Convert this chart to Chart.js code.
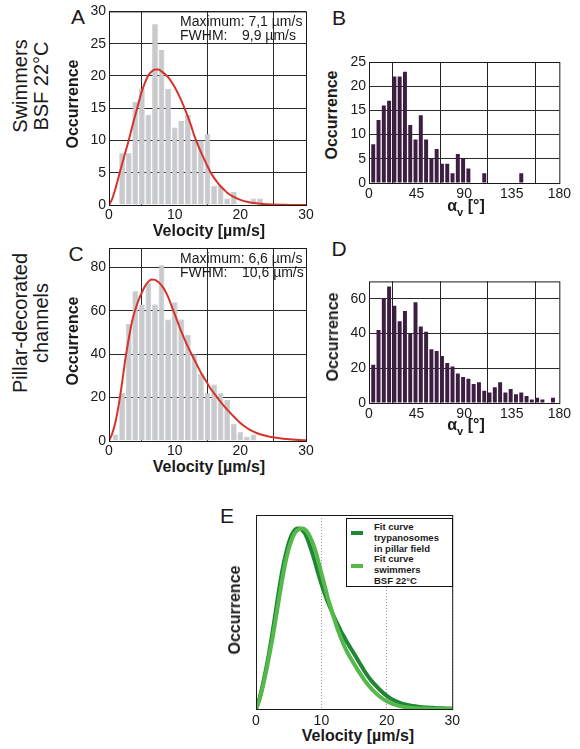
<!DOCTYPE html>
<html>
<head>
<meta charset="utf-8">
<script src="https://cdn.jsdelivr.net/npm/chart.js@4.4.0/dist/chart.umd.min.js"></script>
<style>
  body { margin:0; width:580px; height:749px; position:relative; overflow:hidden; background:#fff;
         font-family:"Liberation Sans", Arial, Helvetica, sans-serif; color:#1a1a1a; }
  canvas { position:absolute; }
  .t { position:absolute; white-space:nowrap; line-height:1; }
  .c { transform:translate(-50%,-50%); }
  .r { transform:translate(-50%,-50%) rotate(-90deg); }
  .letter { font-size:21px; }
  .ttl { font-size:16px; font-weight:bold; }
  .stat { font-size:14px; }
  .side { font-size:20px; line-height:21px; text-align:center; }
  .lg { position:absolute; border:1px solid #111; background:#fff; box-sizing:border-box; }
  .lg div { position:absolute; }
  .lg .txt { font-size:9.5px; font-weight:bold; line-height:10.8px; white-space:nowrap; }
</style>
</head>
<body>

<!-- row labels -->
<div class="t side r" style="left:31px;top:86px">Swimmers<br>BSF 22°C</div>
<div class="t side r" style="left:31px;top:323px">Pillar-decorated<br>channels</div>

<!-- panel letters -->
<div class="t letter c" style="left:78px;top:16px">A</div>
<div class="t letter c" style="left:339px;top:17px">B</div>
<div class="t letter c" style="left:76px;top:253px">C</div>
<div class="t letter c" style="left:339px;top:248px">D</div>
<div class="t letter c" style="left:227px;top:515px">E</div>

<canvas id="cA" width="256" height="222" style="left:60px;top:0px"></canvas>
<canvas id="cB" width="234" height="150" style="left:340px;top:50px"></canvas>
<canvas id="cC" width="256" height="222" style="left:60px;top:236px"></canvas>
<canvas id="cD" width="234" height="150" style="left:340px;top:270px"></canvas>
<canvas id="cE" width="224" height="222" style="left:240px;top:505px"></canvas>

<!-- axis titles -->
<div class="t ttl r" style="left:73px;top:104px">Occurrence</div>
<div class="t ttl c" style="left:209px;top:231px">Velocity [µm/s]</div>
<div class="t ttl r" style="left:332px;top:115px">Occurrence</div>
<div class="t ttl c" style="left:466px;top:208px">α<sub style="font-size:11px">v</sub> [°]</div>
<div class="t ttl r" style="left:73px;top:341px">Occurrence</div>
<div class="t ttl c" style="left:209px;top:467px">Velocity [µm/s]</div>
<div class="t ttl r" style="left:333px;top:337px">Occurrence</div>
<div class="t ttl c" style="left:466px;top:427px">α<sub style="font-size:11px">v</sub> [°]</div>
<div class="t ttl r" style="left:235px;top:610px">Occurrence</div>
<div class="t ttl c" style="left:358px;top:736px">Velocity [µm/s]</div>

<!-- fit statistics -->
<div class="t stat" style="left:180px;top:14px">Maximum: 7,1 µm/s</div>
<div class="t stat" style="left:180px;top:28px">FWHM:</div>
<div class="t stat" style="left:242px;top:28px">9,9 µm/s</div>
<div class="t stat" style="left:180px;top:251px">Maximum: 6,6 µm/s</div>
<div class="t stat" style="left:180px;top:265px">FWHM:</div>
<div class="t stat" style="left:242px;top:265px">10,6 µm/s</div>

<!-- legend of E -->
<div class="lg" style="left:346px;top:518px;width:107px;height:69px">
  <div id="lgDark" style="left:4px;top:12px;width:12px;height:4px"></div>
  <div id="lgLight" style="left:4px;top:45px;width:12px;height:4px"></div>
  <div class="txt" style="left:27px;top:3px">Fit curve<br>trypanosomes<br>in pillar field<br>Fit curve<br>swimmers<br>BSF 22°C</div>
</div>

<script>
const FONT = '"Liberation Sans", Arial, Helvetica, sans-serif';
Chart.defaults.font.family = FONT;
Chart.defaults.color = '#1a1a1a';

// A: swimmers BSF 22°C, velocity histogram (bin centres µm/s)
const velA   = [2, 3, 4, 5, 6, 7, 8, 9, 10, 11, 12, 13, 14, 15, 16, 17, 18, 19, 20, 21, 22, 23];
const countA = [8, 8, 16, 18, 14, 28, 24, 18, 12, 13, 14, 10, 10, 11, 3, 3, 1, 2, 0, 0, 1, 1];

// C: pillar-decorated channels, velocity histogram
const velC   = [1, 2, 3, 4, 5, 6, 7, 8, 9, 10, 11, 12, 13, 14, 15, 16, 17, 18, 19, 20, 21, 22];
const countC = [3, 22, 54, 69, 63, 73, 63, 81, 56, 64, 56, 49, 40, 31, 22, 26, 22, 19, 8, 4, 2, 3];

// fit curves
const fitX = [0, 0.5, 1, 1.5, 2, 2.5, 3, 3.5, 4, 4.5, 5, 5.5, 6, 6.5, 7, 7.5, 8, 8.5, 9, 9.5, 10, 10.5, 11, 11.5, 12, 12.5, 13, 13.5, 14, 14.5, 15, 15.5, 16, 16.5, 17, 17.5, 18, 19, 20, 21, 22, 23, 24, 25, 26, 27, 28, 29, 30];
const fitA = [0, 1.0, 2.6, 4.5, 6.4, 8.2, 10.0, 12.0, 13.9, 15.8, 17.6, 19.0, 20.1, 20.7, 21.0, 21.0, 20.7, 20.3, 19.8, 19.1, 18.3, 17.3, 16.2, 15.0, 13.7, 12.3, 10.7, 9.4, 8.2, 7.1, 6.0, 5.0, 4.2, 3.5, 2.9, 2.4, 1.9, 1.25, 0.8, 0.5, 0.3, 0.18, 0.1, 0.06, 0.03, 0.02, 0.01, 0.005, 0];
const fitC = [0, 3.5, 9, 17, 27, 38, 47, 55, 60.5, 65, 68.5, 71.5, 73.5, 74.5, 74.3, 73.3, 71.8, 69.5, 66.5, 62.5, 58.5, 54.5, 50.5, 47, 43.5, 40.5, 37.5, 34.5, 31.5, 29, 26.5, 24, 22, 20, 18, 16.2, 14.5, 11.3, 8.3, 6.0, 4.3, 3.1, 2.3, 1.7, 1.25, 0.9, 0.65, 0.45, 0.3];

// B / D: angle histograms (bin centres in degrees)
const angleBins = [4, 9, 14, 19, 24, 29, 34, 39, 44, 49, 54, 59, 64, 69, 74, 79, 84, 89, 94, 99, 104, 109, 114, 119, 124, 129, 134, 139, 144, 149, 154, 159, 164, 169, 174];
const countB = [8, 13, 16, 17, 22, 22, 23, 12, 9, 14, 9, 5, 7, 4, 4, 2, 6, 5, 3, 0, 0, 2, 0, 0, 0, 0, 0, 0, 2, 0, 0, 0, 0, 0, 0];
const countD = [22, 42, 60, 67, 56, 47, 53, 40, 58, 44, 41, 31, 30, 27, 23, 21, 17, 15, 14, 11, 12, 7, 6, 9, 12, 6, 8, 5, 6, 4, 2, 3, 2, 0, 3];

// E: normalised fit curves (fraction of axis height)
const fitPillar = [0, 0.05, 0.12, 0.2, 0.29, 0.39, 0.5, 0.61, 0.71, 0.79, 0.855, 0.9, 0.925, 0.93, 0.925, 0.905, 0.865, 0.815, 0.76, 0.7, 0.645, 0.595, 0.55, 0.51, 0.47, 0.435, 0.4, 0.37, 0.34, 0.312, 0.285, 0.256, 0.228, 0.2, 0.175, 0.152, 0.132, 0.097, 0.068, 0.046, 0.032, 0.022, 0.015, 0.011, 0.008, 0.006, 0.004, 0.003, 0.002];
const fitSwim   = [0, 0.045, 0.11, 0.185, 0.27, 0.36, 0.46, 0.565, 0.665, 0.755, 0.825, 0.875, 0.91, 0.925, 0.93, 0.925, 0.905, 0.87, 0.825, 0.765, 0.7, 0.635, 0.57, 0.515, 0.46, 0.41, 0.365, 0.325, 0.29, 0.26, 0.232, 0.204, 0.178, 0.153, 0.13, 0.11, 0.092, 0.062, 0.04, 0.025, 0.015, 0.009, 0.005, 0.003, 0.002, 0.001, 0, 0, 0];

const RED = '#d5342b', GREY_BAR = '#c9cacd', PURPLE = '#3d1e42';
const DARK_GREEN = '#1f8636', LIGHT_GREEN = '#55b84a';
document.getElementById('lgDark').style.background = DARK_GREEN;
document.getElementById('lgLight').style.background = LIGHT_GREEN;

const pts = (xs, ys) => xs.map((x, i) => ({ x: x, y: ys[i] }));

const framePlugin = {
  id: 'frame',
  afterDatasetsDraw(chart) {
    const a = chart.chartArea, ctx = chart.ctx;
    ctx.save();
    ctx.strokeStyle = '#1a1a1a';
    ctx.lineWidth = 1;
    ctx.strokeRect(a.left + 0.5, a.top + 0.5, a.right - a.left, a.bottom - a.top);
    ctx.restore();
  }
};

function scales(o) {
  const tickFont = { size: 14, family: FONT };
  return {
    x: {
      type: 'linear', min: o.xmin, max: o.xmax, offset: false,
      ticks: { stepSize: o.xstep, font: tickFont, color: '#1a1a1a', padding: o.xpad, maxRotation: 0, autoSkip: false },
      grid: { color: o.xgrid, lineWidth: 1, drawTicks: false },
      border: { display: false, dash: o.xdash || [] },
      afterFit: s => { s.height = o.xH; }
    },
    y: {
      min: 0, max: o.ymax,
      ticks: { stepSize: o.ystep, display: o.yticks !== false, font: tickFont, color: '#1a1a1a', padding: 3 },
      grid: { display: o.ygrid !== false, color: '#2a2a2a', lineWidth: 1, drawTicks: false },
      border: { display: false },
      afterBuildTicks: s => { s.ticks = s.ticks.filter(t => Math.abs(t.value / o.ystep - Math.round(t.value / o.ystep)) < 1e-6); },
      afterFit: s => { s.width = o.yW; }
    }
  };
}

const base = (padTop, padRight) => ({
  responsive: false, animation: false, events: [],
  layout: { padding: { top: padTop, right: padRight, left: 0, bottom: 0 } },
  plugins: { legend: { display: false }, tooltip: { enabled: false } }
});

function velocityChart(id, vel, counts, fit, ymax, ystep, padTop) {
  new Chart(document.getElementById(id), {
    type: 'bar',
    data: { datasets: [
      { type: 'line', data: pts(fitX, fit), borderColor: RED, borderWidth: 2, pointRadius: 0,
        cubicInterpolationMode: 'monotone', order: 0 },
      { data: pts(vel, counts), backgroundColor: GREY_BAR, borderColor: '#b9babd', borderWidth: 0.6,
        barPercentage: 0.86, categoryPercentage: 1, order: 1 }
    ]},
    options: Object.assign(base(padTop, 10), {
      scales: scales({ xmin: 0, xmax: 30, xstep: 10, xH: 17, xpad: 2, xgrid: '#2a2a2a', ymax: ymax, ystep: ystep, yW: 49 })
    }),
    plugins: [framePlugin]
  });
}

function angleChart(id, counts, ymax, ystep, padTop) {
  new Chart(document.getElementById(id), {
    type: 'bar',
    data: { datasets: [
      { data: pts(angleBins, counts), backgroundColor: PURPLE, borderWidth: 0,
        barPercentage: 0.75, categoryPercentage: 1 }
    ]},
    options: Object.assign(base(padTop, 8), {
      scales: scales({ xmin: 0, xmax: 180, xstep: 45, xH: 17, xpad: 3, xgrid: '#222', ymax: ymax, ystep: ystep, yW: 29 })
    }),
    plugins: [framePlugin]
  });
}

velocityChart('cA', velA, countA, fitA, 30, 5, 11);
velocityChart('cC', velC, countC, fitC, 89, 20, 12);
angleChart('cB', countB, 25, 5, 12);
angleChart('cD', countD, 70, 20, 11);

new Chart(document.getElementById('cE'), {
  type: 'line',
  data: { datasets: [
    { data: pts(fitX, fitPillar), borderColor: DARK_GREEN, borderWidth: 4, pointRadius: 0, cubicInterpolationMode: 'monotone', order: 1 },
    { data: pts(fitX, fitSwim), borderColor: LIGHT_GREEN, borderWidth: 4, pointRadius: 0, cubicInterpolationMode: 'monotone', order: 0 }
  ]},
  options: Object.assign(base(10, 10), {
    scales: scales({ xmin: 0, xmax: 30, xstep: 10, xH: 18, xpad: 4, xgrid: '#9a9a9a', xdash: [1, 2],
                     ymax: 1, ystep: 1, yW: 16, yticks: false, ygrid: false })
  }),
  plugins: [framePlugin]
});
</script>
</body>
</html>
